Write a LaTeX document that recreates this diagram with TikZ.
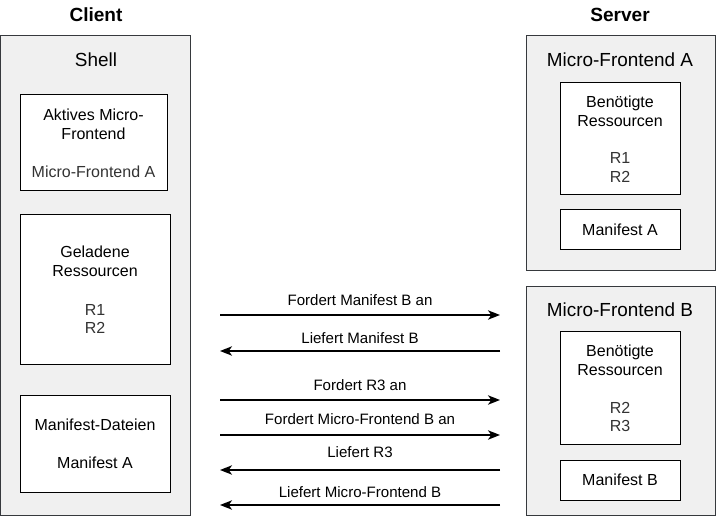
\documentclass[tikz,border=0pt]{standalone}
\usepackage{fontspec}
\setmainfont{Liberation Sans}
\usetikzlibrary{arrows.meta}
\definecolor{panel}{HTML}{F0F0F0}
\definecolor{edge}{HTML}{36393D}
\definecolor{soft}{HTML}{333333}
\begin{document}
\begin{tikzpicture}[x=0.75pt,y=-0.75pt,
  panelbox/.style={draw=edge,fill=panel,line width=0.75pt},
  innerbox/.style={draw=black,fill=white,line width=0.75pt},
  ttl/.style={font=\fontsize{14.3pt}{16pt}\selectfont\bfseries,anchor=center},
  ptitle/.style={font=\fontsize{14.2pt}{16pt}\selectfont,anchor=center},
  btxt/.style={font=\fontsize{12pt}{14.2pt}\selectfont,align=center,anchor=center},
  lbl/.style={font=\fontsize{11.3pt}{13pt}\selectfont,anchor=center},
  msg/.style={line width=1.4pt,-{Stealth[length=9pt,width=7pt,inset=2.5pt]}}]
\useasboundingbox (0,0) rectangle (716,516);
% titles
\node[ttl] (client) at (96,15) {Client};
\node[ttl] (server) at (620,15) {Server};
% shell
\draw[panelbox] (0.5,36) rectangle (190,515) coordinate (shellbr);
\node[ptitle] (shell) at (96,60) {Shell};
\draw[innerbox] (20,95) rectangle (167,191);
\node[btxt] (aktiv) at (93.5,124.5) {Aktives Micro-\\Frontend};
\node[btxt,text=soft] (aktivA) at (93.5,172) {Micro-Frontend A};
\draw[innerbox] (20,215) rectangle (170,364);
\node[btxt] (gel) at (95,261.5) {Geladene\\Ressourcen};
\node[btxt,text=soft] (gelR) at (95,319) {R1\\R2};
\draw[innerbox] (20,395) rectangle (170,492);
\node[btxt] (mand) at (95,425) {Manifest-Dateien};
\node[btxt] (manA) at (95,463) {Manifest A};
% server A
\draw[panelbox] (526,36) rectangle (715.5,270);
\node[ptitle] (mfa) at (620,60) {Micro-Frontend A};
\draw[innerbox] (560,83) rectangle (680,195);
\node[btxt] (benA) at (620,111) {Benötigte\\Ressourcen};
\node[btxt,text=soft] (resA) at (620,167.5) {R1\\R2};
\draw[innerbox] (560,210) rectangle (680,250);
\node[btxt] (mfA) at (620,230) {Manifest A};
% server B
\draw[panelbox] (526,286) rectangle (715.5,515);
\node[ptitle] (mfb) at (620,310) {Micro-Frontend B};
\draw[innerbox] (560,331) rectangle (680,444);
\node[btxt] (benB) at (620,360.5) {Benötigte\\Ressourcen};
\node[btxt,text=soft] (resB) at (620,417) {R2\\R3};
\draw[innerbox] (560,460) rectangle (680,500);
\node[btxt] (mfB) at (620,480) {Manifest B};
% messages
\coordinate (l1) at (220,315); \coordinate (r1) at (500,315);
\coordinate (l2) at (220,351); \coordinate (r2) at (500,351);
\coordinate (l3) at (220,400); \coordinate (r3) at (500,400);
\coordinate (l4) at (220,435); \coordinate (r4) at (500,435);
\coordinate (l5) at (220,470); \coordinate (r5) at (500,470);
\coordinate (l6) at (220,505); \coordinate (r6) at (500,505);
\draw[msg] (l1) -- (r1);
\draw[msg] (r2) -- (l2);
\draw[msg] (l3) -- (r3);
\draw[msg] (l4) -- (r4);
\draw[msg] (r5) -- (l5);
\draw[msg] (r6) -- (l6);
\node[lbl] (t1) at (360,300) {Fordert Manifest B an};
\node[lbl] (t2) at (360,338) {Liefert Manifest B};
\node[lbl] (t3) at (360,385) {Fordert R3 an};
\node[lbl] (t4) at (360,419) {Fordert Micro-Frontend B an};
\node[lbl] (t5) at (360,452) {Liefert R3};
\node[lbl] (t6) at (360,492) {Liefert Micro-Frontend B};
\end{tikzpicture}
\end{document}
